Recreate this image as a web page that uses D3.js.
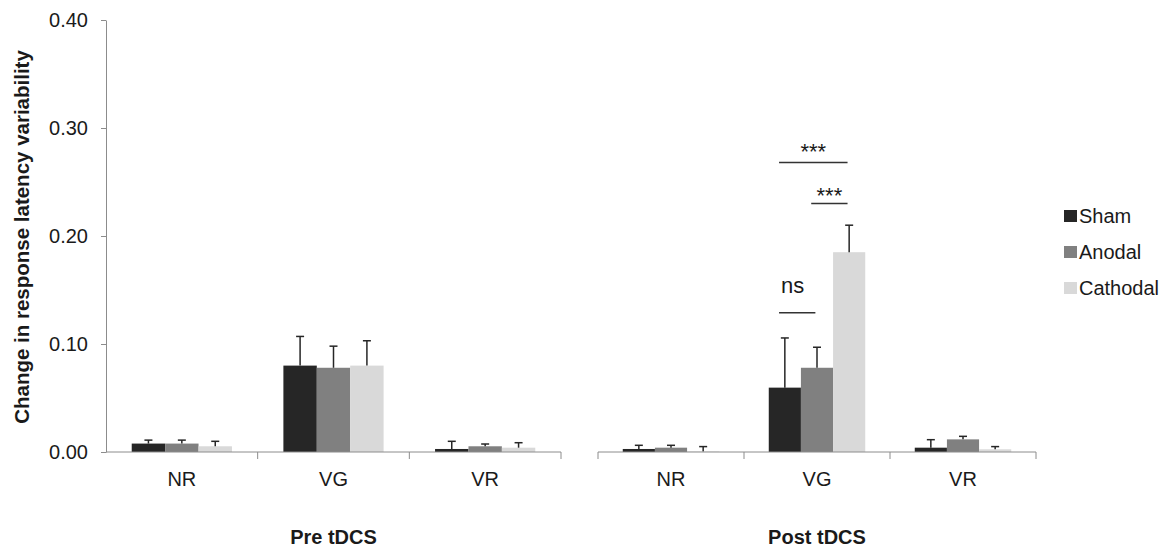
<!DOCTYPE html>
<html>
<head>
<meta charset="utf-8">
<script src="https://cdn.jsdelivr.net/npm/d3@7"></script>
<style>
  body { margin: 0; background: #fff; }
  svg { font-family: "Liberation Sans", Arial, sans-serif; }
  .axis .domain, .axis line { stroke: #8c8c8c; }
  .axis text { fill: #1a1a1a; font-size: 20px; }
</style>
</head>
<body>
<svg id="chart" width="1168" height="548"></svg>
<script>
// data
const panels = ['Pre tDCS', 'Post tDCS'];
const categories = ['NR', 'VG', 'VR'];
const series = ['Sham', 'Anodal', 'Cathodal'];
const colors = ['#262626', '#808080', '#d9d9d9'];
const yTicks = [0, 0.10, 0.20, 0.30, 0.40];

// mean per panel -> category -> series
const preMeans  = [[0.0078, 0.0078, 0.0053], [0.080, 0.078, 0.080], [0.0028, 0.0053, 0.0040]];
const preErr    = [[0.0032, 0.0032, 0.0046], [0.027, 0.020, 0.023], [0.0071, 0.0021, 0.0046]];
const postMeans = [[0.0028, 0.0040, 0.0004], [0.0596, 0.078, 0.185], [0.0040, 0.0117, 0.0025]];
const postErr   = [[0.0034, 0.0022, 0.0046], [0.046, 0.019, 0.025], [0.0074, 0.0028, 0.0025]];

// significance brackets (post tDCS, VG)
const comparisons = [
  {from: 'Sham',   to: 'Cathodal', value: 0.268, label: '***'},
  {from: 'Anodal', to: 'Cathodal', value: 0.230, label: '***'},
  {from: 'Sham',   to: 'Anodal',   value: 0.129, label: 'ns'}
];

const svg = d3.select('#chart');
const y = d3.scaleLinear().domain([0, 0.4]).range([452, 20]);
const color = d3.scaleOrdinal().domain(series).range(colors);

const panelRanges = [[106, 561], [598, 1036]];
const means = [preMeans, postMeans];
const errs = [preErr, postErr];

// y axis
svg.append('g')
  .attr('class', 'axis')
  .attr('transform', 'translate(106,0)')
  .call(d3.axisLeft(y).tickValues(yTicks).tickFormat(d3.format('.2f')).tickSize(5).tickSizeOuter(0).tickPadding(13));

svg.append('text')
  .attr('transform', 'translate(29,237) rotate(-90)')
  .attr('text-anchor', 'middle')
  .style('font-size', '20.5px')
  .style('font-weight', 'bold')
  .style('fill', '#1a1a1a')
  .text('Change in response latency variability');

panels.forEach((panel, p) => {
  const [x0, x1] = panelRanges[p];
  const xCat = d3.scaleBand().domain(categories).range([x0, x1]);
  const xSer = d3.scaleBand().domain(series).range([0, xCat.bandwidth()]).paddingOuter(0.77);

  const g = svg.append('g');

  // bars
  const rows = [];
  categories.forEach((c, i) => series.forEach((s, j) => {
    rows.push({cat: c, ser: s, mean: means[p][i][j], err: errs[p][i][j]});
  }));

  g.selectAll('rect.bar').data(rows)
    .enter().append('rect')
      .attr('class', 'bar')
      .attr('x', d => xCat(d.cat) + xSer(d.ser))
      .attr('y', d => y(d.mean))
      .attr('width', xSer.bandwidth())
      .attr('height', d => y(0) - y(d.mean))
      .attr('fill', d => color(d.ser));

  // error bars (upper only)
  const eb = g.selectAll('g.err').data(rows)
    .enter().append('g')
      .attr('class', 'err')
      .attr('transform', d => `translate(${xCat(d.cat) + xSer(d.ser) + xSer.bandwidth() / 2},0)`);
  eb.append('line')
    .attr('y1', d => y(d.mean))
    .attr('y2', d => y(d.mean + d.err))
    .attr('stroke', '#262626').attr('stroke-width', 1.5);
  eb.append('line')
    .attr('x1', -4).attr('x2', 4)
    .attr('y1', d => y(d.mean + d.err))
    .attr('y2', d => y(d.mean + d.err))
    .attr('stroke', '#262626').attr('stroke-width', 1.5);

  // x axis line with boundary ticks
  const xAxisG = g.append('g').attr('class', 'axis');
  xAxisG.append('line')
    .attr('x1', x0).attr('x2', x1)
    .attr('y1', y(0)).attr('y2', y(0));
  const bounds = categories.map(c => xCat(c)).concat([x1]).slice(p === 0 ? 1 : 0);
  xAxisG.selectAll('line.tick').data(bounds)
    .enter().append('line')
      .attr('class', 'tick')
      .attr('x1', d => d).attr('x2', d => d)
      .attr('y1', y(0)).attr('y2', y(0) + 7);
  xAxisG.selectAll('text').data(categories)
    .enter().append('text')
      .attr('x', d => xCat(d) + xCat.bandwidth() / 2)
      .attr('y', 486)
      .attr('text-anchor', 'middle')
      .text(d => d);

  g.append('text')
    .attr('x', (x0 + x1) / 2)
    .attr('y', 544)
    .attr('text-anchor', 'middle')
    .style('font-size', '20px')
    .style('font-weight', 'bold')
    .style('fill', '#1a1a1a')
    .text(panel);

  if (p === 1) {
    const cx = c => xCat('VG') + xSer(c);
    const bw = xSer.bandwidth();
    const sig = g.selectAll('g.sig').data(comparisons)
      .enter().append('g').attr('class', 'sig');
    sig.append('line')
      .attr('x1', d => cx(d.from) + bw * 0.32)
      .attr('x2', d => cx(d.to) + bw * 0.45)
      .attr('y1', d => y(d.value))
      .attr('y2', d => y(d.value))
      .attr('stroke', '#333').attr('stroke-width', 1.5);
    sig.append('text')
      .attr('x', d => d.label === 'ns' ? cx(d.from) + bw * 0.32 + 2 : (cx(d.from) + cx(d.to) + bw * 0.77) / 2)
      .attr('y', d => d.label === 'ns' ? y(d.value) - 20 : y(d.value) + (d.from === 'Sham' ? -4 : -1))
      .attr('text-anchor', d => d.label === 'ns' ? 'start' : 'middle')
      .style('font-size', '22px')
      .style('fill', '#1a1a1a')
      .text(d => d.label);
  }
});

// legend
const legend = svg.append('g').attr('transform', 'translate(1064,210)');
const item = legend.selectAll('g').data(series)
  .enter().append('g')
    .attr('transform', (d, i) => `translate(0,${i * 36})`);
item.append('rect')
  .attr('width', 13).attr('height', 12)
  .attr('fill', d => color(d));
item.append('text')
  .attr('x', 15).attr('y', 13)
  .style('font-size', '20px')
  .style('fill', '#1a1a1a')
  .text(d => d);
</script>
</body>
</html>
